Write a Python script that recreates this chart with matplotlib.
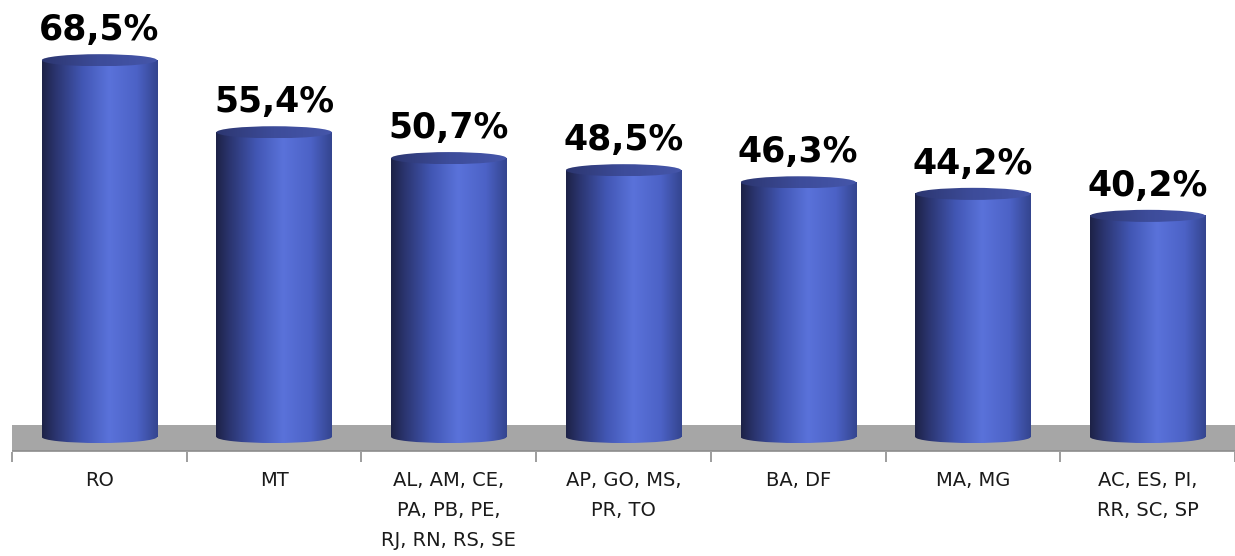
import numpy as np
import matplotlib
matplotlib.use("Agg")
import matplotlib.pyplot as plt
from matplotlib.colors import LinearSegmentedColormap
from matplotlib.patches import Ellipse, Rectangle

# data
categories = ["RO", "MT", "AL, AM, CE,\nPA, PB, PE,\nRJ, RN, RS, SE", "AP, GO, MS,\nPR, TO",
              "BA, DF", "MA, MG", "AC, ES, PI,\nRR, SC, SP"]
values = [68.5, 55.4, 50.7, 48.5, 46.3, 44.2, 40.2]
labels = ["68,5%", "55,4%", "50,7%", "48,5%", "46,3%", "44,2%", "40,2%"]

body_cmap = LinearSegmentedColormap.from_list(
    "body", [(0.0, "#1d2247"), (0.12, "#2b3570"), (0.35, "#4257b4"),
             (0.58, "#5a72da"), (0.82, "#4c62c6"), (1.0, "#34458f")])
top_cmap = LinearSegmentedColormap.from_list(
    "top", [(0.0, "#2c3670"), (0.5, "#3d4c9a"), (1.0, "#4556aa")])
grad = np.linspace(0, 1, 256).reshape(1, -1)

fig = plt.figure(figsize=(12.35, 5.56), dpi=100)
ax = fig.add_axes([12 / 1235, (556 - 452) / 556, 1223 / 1235, 452 / 556])

bw = 0.66      # bar width in category units
eh = 2.2       # ellipse height in value units

# grey floor
floor = Rectangle((-0.5, -2.6), 8, 4.78, facecolor="#a6a6a6", edgecolor="none", zorder=1)
ax.add_patch(floor)
ax.axhline(-2.6, color="#8c8c8c", lw=1.2, zorder=2)

for i, v in enumerate(values):
    x0, x1 = i - bw / 2, i + bw / 2
    im = ax.imshow(grad, cmap=body_cmap, extent=(x0, x1, 0, v), aspect="auto", zorder=3)
    im2 = ax.imshow(grad, cmap=body_cmap, extent=(x0, x1, -eh / 2, 0), aspect="auto", zorder=3)
    bottom = Ellipse((i, 0), bw, eh, transform=ax.transData)
    im2.set_clip_path(bottom)
    im3 = ax.imshow(grad, cmap=top_cmap, extent=(x0, x1, v - eh / 2, v + eh / 2),
                    aspect="auto", zorder=4)
    top = Ellipse((i, v), bw, eh, transform=ax.transData)
    im3.set_clip_path(top)
    ax.text(i, v + 3.7, labels[i], ha="center", va="baseline", fontsize=25,
            fontweight="bold", family="DejaVu Sans", color="black", zorder=5)

ax.set_xlim(-0.5, -0.5 + 1223 / 176.4)
ax.set_ylim(-2.73, 79.45)

for s in ax.spines.values():
    s.set_visible(False)
ax.set_yticks([])
ax.set_xticks(range(len(categories)))
ax.set_xticklabels(categories, fontsize=14, family="DejaVu Sans", linespacing=1.72,
                   color="#1a1a1a")
ax.tick_params(axis="x", which="major", length=0, pad=14)
ax.set_xticks(np.arange(-0.5, 7, 1), minor=True)
ax.tick_params(axis="x", which="minor", length=7, width=1.2, color="#8c8c8c")

plt.savefig("out.png", dpi=100)
